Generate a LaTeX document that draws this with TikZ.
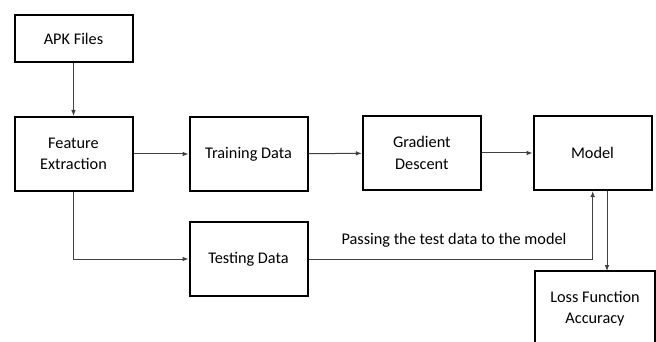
\documentclass[tikz,border=0pt]{standalone}
\usepackage{fontspec}
\setmainfont{Carlito}
\usetikzlibrary{arrows.meta}
\begin{document}
\begin{tikzpicture}[x=0.75pt,y=-0.75pt,
  box/.style={draw=black,line width=1.5pt,minimum width=88.5pt,minimum height=55.5pt,inner sep=0pt,align=center,font=\fontsize{12.2}{16}\selectfont},
  conn/.style={draw=black!75,line width=0.75pt,-{Latex[length=4.5pt,width=3.5pt]}},
  lbl/.style={font=\fontsize{12.2}{16}\selectfont}]
\useasboundingbox (0,0) rectangle (656,342);
\node[box,minimum height=35pt] (apk) at (73.5,38.5) {APK Files};
\node[box] (fe) at (73.5,154) {Feature\\Extraction};
\node[box] (tr) at (248.5,154) {Training Data};
\node[box] (te) at (248.5,259) {Testing Data};
\node[box] (gd) at (421.8,153) {Gradient\\Descent};
\node[box] (mo) at (592.5,153) {Model};
\node[box,draw=none,anchor=north] (lf) at (595,271) {Loss Function\\Accuracy};
\draw[line width=1.5pt] ([yshift=-15pt]lf.south west) -- (lf.north west) -- (lf.north east) -- ([yshift=-15pt]lf.south east);
\coordinate (c1) at (592.7,259);
\coordinate (c2) at (607,190);
\draw[conn] (apk) -- (fe);
\draw[conn] (fe) -- (tr);
\draw[conn] (tr) -- (gd);
\draw[conn] (gd) -- (mo);
\draw[conn] (fe.south) |- (te.west);
\draw[conn] (te.east) -- (c1) -- (c1 |- mo.south);
\draw[conn] (c2 |- mo.south) -- (c2 |- lf.north);
\node[lbl] (pl) at (454,240) {Passing the test data to the model};
\end{tikzpicture}
\end{document}
